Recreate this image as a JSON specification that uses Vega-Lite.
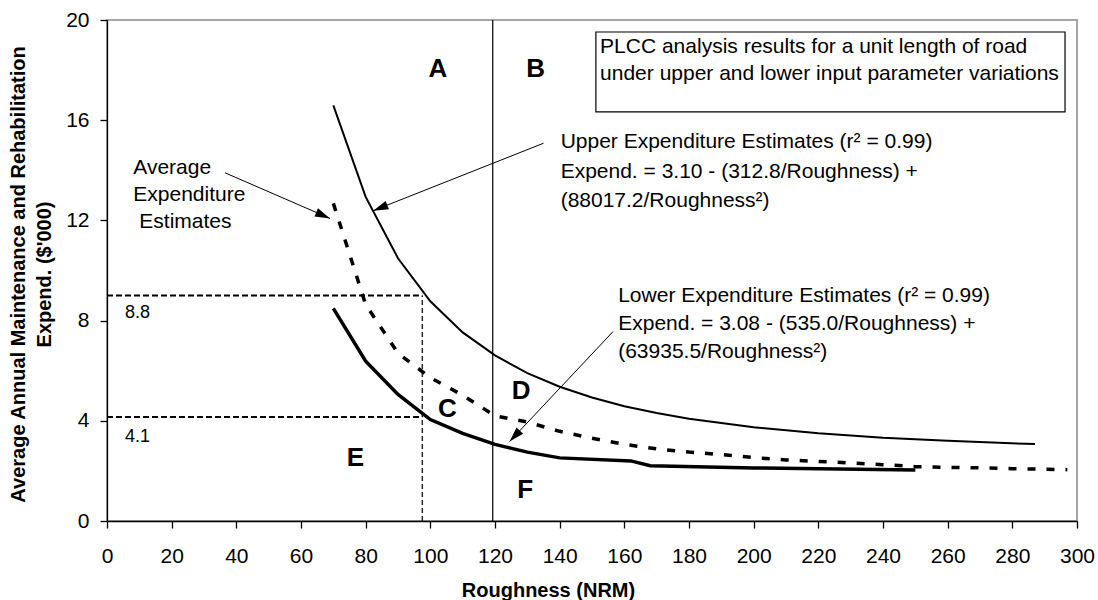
{
  "$schema": "https://vega.github.io/schema/vega-lite/v6.json",
  "width": 970,
  "height": 501,
  "autosize": "none",
  "padding": {"left": 107, "top": 20, "right": 21, "bottom": 79},
  "background": "white",
  "config": {
    "font": "Liberation Sans",
    "view": {"stroke": "#a6a6a6", "strokeWidth": 2},
    "axis": {"grid": false, "domainColor": "black", "tickColor": "black", "labelColor": "black", "titleColor": "black", "domainWidth": 1.3, "tickWidth": 1.3, "tickSize": 7, "labelFont": "Liberation Sans", "labelFontSize": 21, "titleFont": "Liberation Sans", "titleFontSize": 20, "titleFontWeight": "bold", "labelFlush": false, "labelOverlap": false}
  },
  "datasets": {
    "curves": [
      {"series": "Upper", "roughness": 70, "expend": 16.59},
      {"series": "Upper", "roughness": 80, "expend": 12.94},
      {"series": "Upper", "roughness": 90, "expend": 10.49},
      {"series": "Upper", "roughness": 100, "expend": 8.77},
      {"series": "Upper", "roughness": 110, "expend": 7.53},
      {"series": "Upper", "roughness": 120, "expend": 6.61},
      {"series": "Upper", "roughness": 130, "expend": 5.90},
      {"series": "Upper", "roughness": 140, "expend": 5.36},
      {"series": "Upper", "roughness": 150, "expend": 4.93},
      {"series": "Upper", "roughness": 160, "expend": 4.58},
      {"series": "Upper", "roughness": 170, "expend": 4.31},
      {"series": "Upper", "roughness": 180, "expend": 4.08},
      {"series": "Upper", "roughness": 200, "expend": 3.74},
      {"series": "Upper", "roughness": 220, "expend": 3.50},
      {"series": "Upper", "roughness": 240, "expend": 3.32},
      {"series": "Upper", "roughness": 260, "expend": 3.20},
      {"series": "Upper", "roughness": 287, "expend": 3.07},
      {"series": "Lower", "roughness": 70, "expend": 8.49},
      {"series": "Lower", "roughness": 80, "expend": 6.38},
      {"series": "Lower", "roughness": 90, "expend": 5.05},
      {"series": "Lower", "roughness": 100, "expend": 4.05},
      {"series": "Lower", "roughness": 110, "expend": 3.50},
      {"series": "Lower", "roughness": 120, "expend": 3.06},
      {"series": "Lower", "roughness": 130, "expend": 2.75},
      {"series": "Lower", "roughness": 140, "expend": 2.52},
      {"series": "Lower", "roughness": 162, "expend": 2.40},
      {"series": "Lower", "roughness": 168, "expend": 2.21},
      {"series": "Lower", "roughness": 200, "expend": 2.12},
      {"series": "Lower", "roughness": 250, "expend": 2.04},
      {"series": "Average", "roughness": 70, "expend": 12.68},
      {"series": "Average", "roughness": 80, "expend": 8.64},
      {"series": "Average", "roughness": 90, "expend": 6.70},
      {"series": "Average", "roughness": 100, "expend": 5.72},
      {"series": "Average", "roughness": 110, "expend": 5.02},
      {"series": "Average", "roughness": 120, "expend": 4.20},
      {"series": "Average", "roughness": 130, "expend": 3.95},
      {"series": "Average", "roughness": 140, "expend": 3.58},
      {"series": "Average", "roughness": 150, "expend": 3.30},
      {"series": "Average", "roughness": 160, "expend": 3.06},
      {"series": "Average", "roughness": 170, "expend": 2.88},
      {"series": "Average", "roughness": 180, "expend": 2.75},
      {"series": "Average", "roughness": 190, "expend": 2.65},
      {"series": "Average", "roughness": 200, "expend": 2.53},
      {"series": "Average", "roughness": 210, "expend": 2.44},
      {"series": "Average", "roughness": 220, "expend": 2.38},
      {"series": "Average", "roughness": 230, "expend": 2.32},
      {"series": "Average", "roughness": 240, "expend": 2.25},
      {"series": "Average", "roughness": 250, "expend": 2.17},
      {"series": "Average", "roughness": 260, "expend": 2.14},
      {"series": "Average", "roughness": 270, "expend": 2.12},
      {"series": "Average", "roughness": 280, "expend": 2.09},
      {"series": "Average", "roughness": 297, "expend": 2.05}
    ],
    "zones": [
      {"label": "A", "roughness": 102.3, "expend": 17.74},
      {"label": "B", "roughness": 132.6, "expend": 17.74},
      {"label": "C", "roughness": 105.3, "expend": 4.16},
      {"label": "D", "roughness": 128.1, "expend": 4.86},
      {"label": "E", "roughness": 76.8, "expend": 2.2},
      {"label": "F", "roughness": 129.3, "expend": 0.91}
    ],
    "one": [{}]
  },
  "layer": [
    {
      "data": {"name": "curves"},
      "transform": [{"filter": "datum.series === 'Upper'"}],
      "mark": {"type": "line", "color": "black", "strokeWidth": 2},
      "encoding": {
        "x": {"field": "roughness", "type": "quantitative", "scale": {"domain": [0, 300], "nice": false, "zero": false},
          "axis": {"values": [0, 20, 40, 60, 80, 100, 120, 140, 160, 180, 200, 220, 240, 260, 280, 300], "title": "Roughness (NRM)", "labelPadding": 17, "titleX": 441, "titleY": 75, "titleAlign": "center", "titleBaseline": "alphabetic"}},
        "y": {"field": "expend", "type": "quantitative", "scale": {"domain": [0, 20], "nice": false, "zero": false},
          "axis": {"values": [0, 4, 8, 12, 16, 20], "title": ["Average Annual Maintenance and Rehabilitation", "Expend. ($'000)"], "labelPadding": 11, "titleAngle": -90, "titleX": -82.7, "titleY": 254, "titleAlign": "center", "titleBaseline": "alphabetic", "titleLineHeight": 26}}
      }
    },
    {
      "data": {"name": "curves"},
      "transform": [{"filter": "datum.series === 'Lower'"}],
      "mark": {"type": "line", "color": "black", "strokeWidth": 3.5},
      "encoding": {
        "x": {"field": "roughness", "type": "quantitative"},
        "y": {"field": "expend", "type": "quantitative"}
      }
    },
    {
      "data": {"name": "curves"},
      "transform": [{"filter": "datum.series === 'Average'"}],
      "mark": {"type": "line", "color": "black", "strokeWidth": 3.5, "strokeDash": [8, 11], "strokeCap": "butt"},
      "encoding": {
        "x": {"field": "roughness", "type": "quantitative"},
        "y": {"field": "expend", "type": "quantitative"}
      }
    },
    {
      "data": {"name": "one"},
      "mark": {"type": "rule", "color": "black", "strokeWidth": 1.2},
      "encoding": {"x": {"datum": 119.3, "type": "quantitative"}}
    },
    {
      "data": {"name": "one"},
      "mark": {"type": "rule", "color": "black", "strokeWidth": 2, "strokeDash": [6, 3]},
      "encoding": {"x": {"datum": 0, "type": "quantitative"}, "x2": {"datum": 97.5}, "y": {"datum": 9.0, "type": "quantitative"}}
    },
    {
      "data": {"name": "one"},
      "mark": {"type": "rule", "color": "black", "strokeWidth": 2, "strokeDash": [6, 3]},
      "encoding": {"x": {"datum": 0, "type": "quantitative"}, "x2": {"datum": 97.5}, "y": {"datum": 4.15, "type": "quantitative"}}
    },
    {
      "data": {"name": "one"},
      "mark": {"type": "rule", "color": "black", "strokeWidth": 1.2, "strokeDash": [5, 3]},
      "encoding": {"x": {"datum": 97.5, "type": "quantitative"}, "y": {"datum": 0, "type": "quantitative"}, "y2": {"datum": 9.0}}
    },
    {
      "data": {"name": "one"},
      "mark": {"type": "rect", "fill": "white", "stroke": "black", "strokeWidth": 1.2},
      "encoding": {"x": {"datum": 151.2, "type": "quantitative"}, "x2": {"datum": 296.3}, "y": {"datum": 19.52, "type": "quantitative"}, "y2": {"datum": 16.33}}
    },
    {
      "data": {"name": "one"},
      "mark": {"type": "text", "align": "left", "baseline": "alphabetic", "fontSize": 21, "lineHeight": 26.7, "color": "black"},
      "encoding": {"x": {"datum": 152.5, "type": "quantitative"}, "y": {"datum": 18.67, "type": "quantitative"},
        "text": {"value": ["PLCC analysis results for a unit length of road", "under upper and lower input parameter variations"]}}
    },
    {
      "data": {"name": "one"},
      "mark": {"type": "text", "align": "left", "baseline": "alphabetic", "fontSize": 21, "lineHeight": 29.3, "color": "black"},
      "encoding": {"x": {"datum": 140.3, "type": "quantitative"}, "y": {"datum": 14.88, "type": "quantitative"},
        "text": {"value": ["Upper Expenditure Estimates (r² = 0.99)", "Expend. = 3.10 - (312.8/Roughness) +", "(88017.2/Roughness²)"]}}
    },
    {
      "data": {"name": "one"},
      "mark": {"type": "text", "align": "left", "baseline": "alphabetic", "fontSize": 21, "lineHeight": 28.3, "color": "black"},
      "encoding": {"x": {"datum": 158.1, "type": "quantitative"}, "y": {"datum": 8.75, "type": "quantitative"},
        "text": {"value": ["Lower Expenditure Estimates (r² = 0.99)", "Expend. = 3.08 - (535.0/Roughness) +", "(63935.5/Roughness²)"]}}
    },
    {
      "data": {"name": "one"},
      "mark": {"type": "text", "align": "left", "baseline": "alphabetic", "fontSize": 21, "lineHeight": 27, "color": "black"},
      "encoding": {"x": {"datum": 8.13, "type": "quantitative"}, "y": {"datum": 13.84, "type": "quantitative"},
        "text": {"value": ["Average", "Expenditure"]}}
    },
    {
      "data": {"name": "one"},
      "mark": {"type": "text", "align": "left", "baseline": "alphabetic", "fontSize": 21, "dx": 6, "color": "black"},
      "encoding": {"x": {"datum": 8.13, "type": "quantitative"}, "y": {"datum": 11.68, "type": "quantitative"},
        "text": {"value": "Estimates"}}
    },
    {
      "data": {"name": "one"},
      "mark": {"type": "text", "align": "left", "baseline": "alphabetic", "fontSize": 18, "color": "black"},
      "encoding": {"x": {"datum": 5.57, "type": "quantitative"}, "y": {"datum": 8.09, "type": "quantitative"}, "text": {"value": "8.8"}}
    },
    {
      "data": {"name": "one"},
      "mark": {"type": "text", "align": "left", "baseline": "alphabetic", "fontSize": 18, "color": "black"},
      "encoding": {"x": {"datum": 5.57, "type": "quantitative"}, "y": {"datum": 3.14, "type": "quantitative"}, "text": {"value": "4.1"}}
    },
    {
      "data": {"name": "zones"},
      "mark": {"type": "text", "align": "center", "baseline": "alphabetic", "fontSize": 26, "fontWeight": "bold", "color": "black"},
      "encoding": {"x": {"field": "roughness", "type": "quantitative"}, "y": {"field": "expend", "type": "quantitative"}, "text": {"field": "label"}}
    },
    {
      "data": {"name": "one"},
      "mark": {"type": "rule", "color": "black", "strokeWidth": 1},
      "encoding": {"x": {"datum": 135.0, "type": "quantitative"}, "y": {"datum": 15.08, "type": "quantitative"}, "x2": {"datum": 82.36}, "y2": {"datum": 12.39}}
    },
    {
      "data": {"name": "one"},
      "mark": {"type": "point", "shape": "M0,0L-0.3,1L0.3,1Z", "filled": true, "color": "black", "opacity": 1, "size": 900, "angle": 248.4, "strokeWidth": 0},
      "encoding": {"x": {"datum": 82.36, "type": "quantitative"}, "y": {"datum": 12.39, "type": "quantitative"}}
    },
    {
      "data": {"name": "one"},
      "mark": {"type": "rule", "color": "black", "strokeWidth": 1},
      "encoding": {"x": {"datum": 36.5, "type": "quantitative"}, "y": {"datum": 13.9, "type": "quantitative"}, "x2": {"datum": 68.97}, "y2": {"datum": 12.08}}
    },
    {
      "data": {"name": "one"},
      "mark": {"type": "point", "shape": "M0,0L-0.3,1L0.3,1Z", "filled": true, "color": "black", "opacity": 1, "size": 900, "angle": 113.5, "strokeWidth": 0},
      "encoding": {"x": {"datum": 68.97, "type": "quantitative"}, "y": {"datum": 12.08, "type": "quantitative"}}
    },
    {
      "data": {"name": "one"},
      "mark": {"type": "rule", "color": "black", "strokeWidth": 1},
      "encoding": {"x": {"datum": 156.5, "type": "quantitative"}, "y": {"datum": 7.56, "type": "quantitative"}, "x2": {"datum": 124.5}, "y2": {"datum": 3.17}}
    },
    {
      "data": {"name": "one"},
      "mark": {"type": "point", "shape": "M0,0L-0.3,1L0.3,1Z", "filled": true, "color": "black", "opacity": 1, "size": 900, "angle": 223.3, "strokeWidth": 0},
      "encoding": {"x": {"datum": 124.5, "type": "quantitative"}, "y": {"datum": 3.17, "type": "quantitative"}}
    }
  ]
}
